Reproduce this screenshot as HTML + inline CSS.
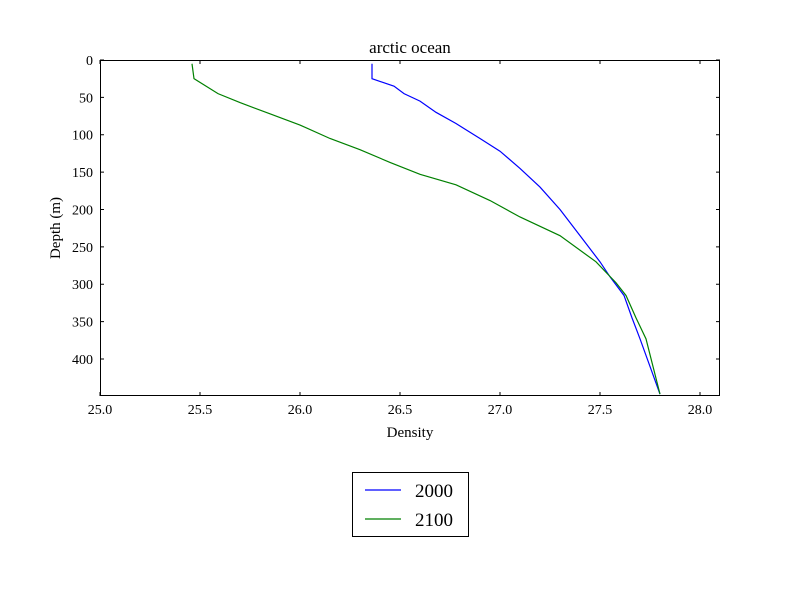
<!DOCTYPE html>
<html><head><meta charset="utf-8"><style>body{margin:0;background:#fff}svg{display:block}text{font-family:"Liberation Serif","DejaVu Serif",serif;fill:#000}</style></head>
<body>
<svg id="chart" width="800" height="600" viewBox="0 0 800 600">
<rect width="800" height="600" fill="#fff"/>
<text x="410" y="53" font-size="17" text-anchor="middle">arctic ocean</text>
<g id="plot"></g>
<text x="410" y="437" font-size="15" text-anchor="middle">Density</text>
<text transform="translate(60,228) rotate(-90)" font-size="15" text-anchor="middle">Depth (m)</text>
<g>
<rect x="352.5" y="472.5" width="116" height="64" fill="#fff" stroke="#000"/>
<g><line x1="365" y1="490" x2="401" y2="490" stroke="#0000ff" stroke-width="1.2"/><text x="415" y="497" font-size="19">2000</text></g>
<g><line x1="365" y1="519" x2="401" y2="519" stroke="#008000" stroke-width="1.2"/><text x="415" y="526" font-size="19">2100</text></g>
</g>
</svg>
<script>
const xTicks=[25.0,25.5,26.0,26.5,27.0,27.5,28.0];
const yTicks=[0,50,100,150,200,250,300,350,400];
const depth2000=[5,25,35,45,55,70,85,105,122,145,170,200,235,270,290,315,345,373,410,447];
const dens2000=[26.36,26.36,26.47,26.52,26.6,26.68,26.78,26.9,27.0,27.1,27.2,27.3,27.4,27.5,27.55,27.62,27.66,27.7,27.75,27.8];
const depth2100=[5,25,35,45,57,72,87,105,120,137,153,167,188,210,235,270,298,315,345,373,447];
const dens2100=[25.46,25.47,25.53,25.59,25.7,25.85,26.0,26.15,26.3,26.45,26.6,26.78,26.95,27.1,27.3,27.48,27.58,27.63,27.68,27.73,27.8];
const L=100,R=720,T=60,B=396,xmin=25.0,xmax=28.1,ymin=0,ymax=449.5;
const sx=v=>L+(v-xmin)/(xmax-xmin)*(R-L);
const sy=v=>T+(v-ymin)/(ymax-ymin)*(B-T);
const NS="http://www.w3.org/2000/svg",g=document.getElementById('plot');
function mk(t,a){const e=document.createElementNS(NS,t);for(const k in a)e.setAttribute(k,a[k]);g.appendChild(e);return e;}
function line(d,x,c,n){const p=mk('polyline',{points:d.map((v,i)=>sx(x[i])+','+sy(v)).join(' '),fill:'none',stroke:c,'stroke-width':1.2});

}
line(depth2000,dens2000,'#0000ff','series-2000');
line(depth2100,dens2100,'#008000','series-2100');
xTicks.forEach(v=>{const x=sx(v);
const a=mk('line',{x1:x,x2:x,y1:B,y2:B-4,stroke:'#000'});
const b=mk('line',{x1:x,x2:x,y1:T,y2:T+4,stroke:'#000'});
const t=mk('text',{x:x,y:B+18,'font-size':14,'text-anchor':'middle'});t.textContent=v.toFixed(1);
});
yTicks.forEach(v=>{const y=sy(v);
const a=mk('line',{x1:L,x2:L+4,y1:y,y2:y,stroke:'#000'});
const b=mk('line',{x1:R,x2:R-4,y1:y,y2:y,stroke:'#000'});
const t=mk('text',{x:L-7,y:y+5,'font-size':14,'text-anchor':'end'});t.textContent=v;
});
const f=mk('rect',{x:L+0.5,y:T+0.5,width:R-L-1,height:B-T-1,fill:'none',stroke:'#000'});


</script>
</body></html>
